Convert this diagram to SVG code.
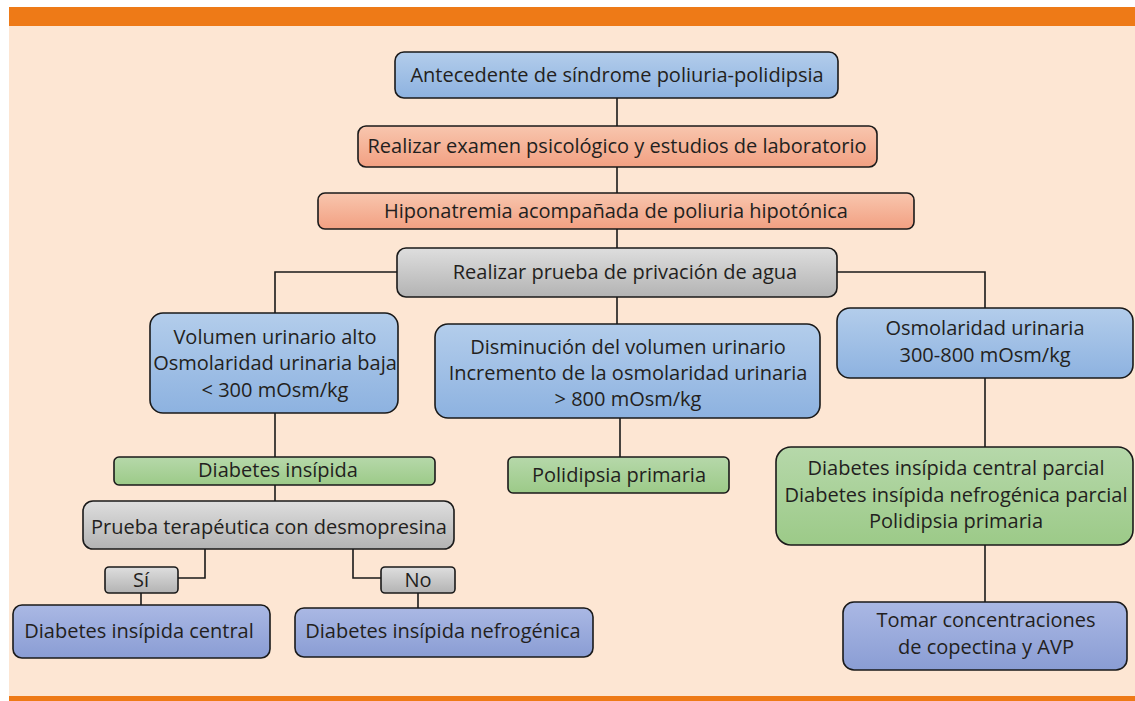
<svg xmlns="http://www.w3.org/2000/svg" width="1135" height="701" viewBox="0 0 1135 701">
<defs>
<linearGradient id="gBlue" x1="0" y1="0" x2="0" y2="1"><stop offset="0" stop-color="#B3CDEB"/><stop offset="1" stop-color="#8DB2E0"/></linearGradient>
<linearGradient id="gSalmon" x1="0" y1="0" x2="0" y2="1"><stop offset="0" stop-color="#F8C6AE"/><stop offset="1" stop-color="#F2A082"/></linearGradient>
<linearGradient id="gGray" x1="0" y1="0" x2="0" y2="1"><stop offset="0" stop-color="#DEDEDE"/><stop offset="1" stop-color="#B3B3B3"/></linearGradient>
<linearGradient id="gGreen" x1="0" y1="0" x2="0" y2="1"><stop offset="0" stop-color="#B6D8AA"/><stop offset="1" stop-color="#9CCA88"/></linearGradient>
<linearGradient id="gPurple" x1="0" y1="0" x2="0" y2="1"><stop offset="0" stop-color="#AAB8E4"/><stop offset="1" stop-color="#8A9DD4"/></linearGradient>
</defs>
<style>
.box{stroke:#1a1a1a;stroke-width:1.6}
.blue{fill:url(#gBlue)}
.salmon{fill:url(#gSalmon)}
.gray{fill:url(#gGray)}
.green{fill:url(#gGreen)}
.purple{fill:url(#gPurple)}
text{font-family:"Open Sans","Liberation Sans",sans-serif;font-size:20px;fill:#231F20;text-anchor:middle}
.conn path{fill:none;stroke:#1a1a1a;stroke-width:1.6}
</style>
<rect x="0" y="0" width="1135" height="701" fill="#FFFFFF"/>
<rect x="9" y="26" width="1126" height="670" fill="#FDE6D3"/>
<rect x="9" y="7" width="1126" height="19" fill="#EE7A17"/>
<rect x="9" y="696" width="1126" height="5" fill="#EE7A17"/>

<g class="conn">
<path d="M617,98 V126"/>
<path d="M617,167 V193"/>
<path d="M617,229 V248"/>
<path d="M617,297 V324"/>
<path d="M397,272 H275 V313"/>
<path d="M837,272 H985 V308"/>
<path d="M985,378 V447"/>
<path d="M985,545 V602"/>
<path d="M275,413 V457"/>
<path d="M275,485 V501"/>
<path d="M620,418 V457"/>
<path d="M205,549 V578 H178"/>
<path d="M141,593 V605"/>
<path d="M353,549 V578 H381"/>
<path d="M418,593 V608"/>
</g>

<g id="n1"><rect class="box blue" x="395" y="52" width="443" height="46" rx="9"/><text x="617" y="82">Antecedente de síndrome poliuria-polidipsia</text></g>
<g id="n2"><rect class="box salmon" x="358" y="126" width="519" height="41" rx="8"/><text x="617" y="153">Realizar examen psicológico y estudios de laboratorio</text></g>
<g id="n3"><rect class="box salmon" x="318" y="193" width="596" height="36" rx="7"/><text x="616" y="218">Hiponatremia acompañada de poliuria hipotónica</text></g>
<g id="n4"><rect class="box gray" x="397" y="248" width="440" height="49" rx="9"/><text x="625" y="279">Realizar prueba de privación de agua</text></g>
<g id="n5"><rect class="box blue" x="150" y="313" width="248" height="100" rx="13"/><text x="275" y="344">Volumen urinario alto</text><text x="275" y="370">Osmolaridad urinaria baja</text><text x="275" y="397">&lt; 300 mOsm/kg</text></g>
<g id="n6"><rect class="box blue" x="435" y="324" width="385" height="94" rx="13"/><text x="628" y="354">Disminución del volumen urinario</text><text x="628" y="380">Incremento de la osmolaridad urinaria</text><text x="628" y="406">&gt; 800 mOsm/kg</text></g>
<g id="n7"><rect class="box blue" x="837" y="308" width="296" height="70" rx="13"/><text x="985" y="335">Osmolaridad urinaria</text><text x="985" y="362">300-800 mOsm/kg</text></g>
<g id="n8"><rect class="box green" x="114" y="457" width="321" height="28" rx="5"/><text x="278" y="477">Diabetes insípida</text></g>
<g id="n9"><rect class="box green" x="508" y="457" width="221" height="36" rx="5"/><text x="619" y="482">Polidipsia primaria</text></g>
<g id="n10"><rect class="box green" x="776" y="447" width="357" height="98" rx="15"/><text x="956" y="475">Diabetes insípida central parcial</text><text x="956" y="502">Diabetes insípida nefrogénica parcial</text><text x="956" y="528">Polidipsia primaria</text></g>
<g id="n11"><rect class="box gray" x="83" y="501" width="371" height="48" rx="10"/><text x="269" y="534">Prueba terapéutica con desmopresina</text></g>
<g id="n12"><rect class="box gray" x="105" y="567" width="73" height="26" rx="4"/><text x="141" y="587">Sí</text></g>
<g id="n13"><rect class="box gray" x="381" y="567" width="74" height="26" rx="4"/><text x="418" y="587">No</text></g>
<g id="n14"><rect class="box purple" x="13" y="605" width="257" height="53" rx="9"/><text x="139" y="638">Diabetes insípida central</text></g>
<g id="n15"><rect class="box purple" x="295" y="608" width="298" height="49" rx="9"/><text x="443" y="638">Diabetes insípida nefrogénica</text></g>
<g id="n16"><rect class="box purple" x="843" y="602" width="284" height="68" rx="11"/><text x="986" y="627">Tomar concentraciones</text><text x="986" y="654">de copectina y AVP</text></g>
</svg>
